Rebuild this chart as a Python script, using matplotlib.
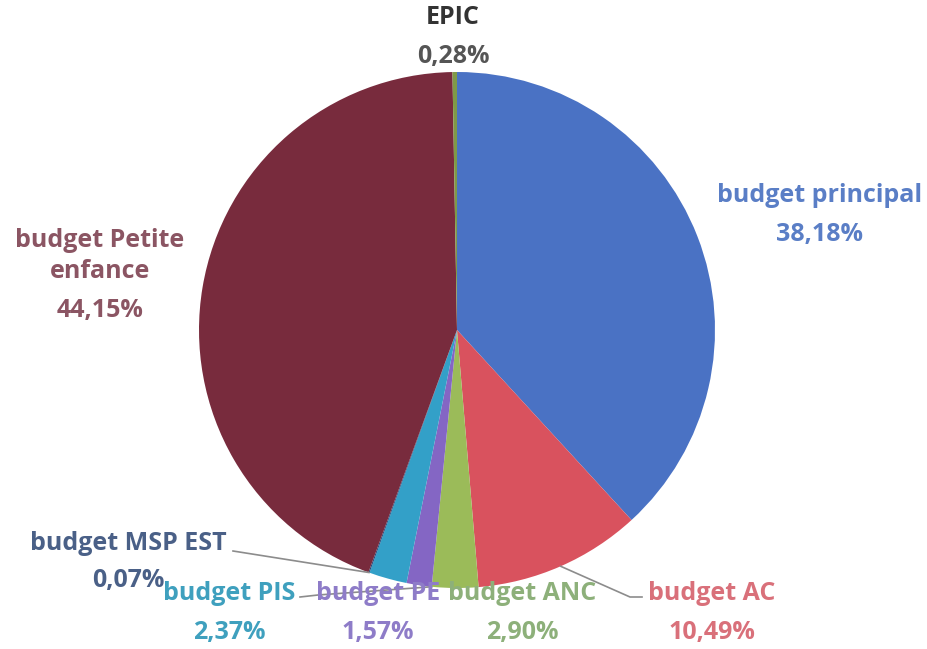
import numpy as np
import matplotlib.pyplot as plt

# Budget shares (%), clockwise from the top
categories = ['budget principal', 'budget AC', 'budget ANC', 'budget PE',
              'budget PIS', 'budget MSP EST', 'budget Petite\nenfance', 'EPIC']
shares = [38.18, 10.49, 2.90, 1.57, 2.37, 0.07, 44.15, 0.28]
pct_labels = ['38,18%', '10,49%', '2,90%', '1,57%', '2,37%', '0,07%', '44,15%', '0,28%']

wedge_colors = ['#4a72c4', '#d9525e', '#9bbb59', '#8466c4', '#33a0c8',
                '#1f497d', '#782b3d', '#7f9a48']
text_colors = ['#5a7ec6', '#d9707a', '#8db07a', '#8e7cc8', '#3fa0be',
               '#4a6087', '#8b5563', '#333333']

W, H = 928, 649
fig = plt.figure(figsize=(W / 100, H / 100), dpi=100)
ax = fig.add_axes([0, 0, 1, 1])

cx, cy, r = 457, H - 330, 258
wedges, _ = ax.pie(shares, colors=wedge_colors, startangle=90, counterclock=False,
                   center=(cx, cy), radius=r, frame=True,
                   wedgeprops=dict(linewidth=0))
ax.set_xlim(0, W)
ax.set_ylim(0, H)
ax.set_aspect('equal')
ax.axis('off')

font = dict(family='Open Sans', fontweight='bold', fontsize=18, ha='center', va='center')

# label positions (pixel coords, top-left origin): x, name y, pct y
label_pos = {
    0: (820, 195, 235),
    1: (712, 594, 632),
    2: (522, 594, 632),
    3: (378, 594, 632),
    4: (229, 594, 632),
    5: (128, 543, 580),
    6: (100, 256, 311),
    7: (453, 18, 57),
}

for i, name in enumerate(categories):
    x, yn, yp = label_pos[i]
    c = text_colors[i]
    ax.text(x, H - yn, name, color=c, linespacing=1.3, **font)
    pc = '#555555' if i == 7 else c
    ax.text(x, H - yp, pct_labels[i], color=pc, zorder=5, **font)


def edge_point(i, frac=0.5):
    w = wedges[i]
    a = np.deg2rad(w.theta1 + (w.theta2 - w.theta1) * frac)
    return cx + r * np.cos(a), cy + r * np.sin(a)


# leader lines: (slice, fraction along slice, label-side points in pixel coords)
leaders = [
    (1, 0.5, [(642, 597), (630, 597)]),
    (3, 1.0, [(300, 597), (318, 595)]),
    (5, 0.5, [(233, 551)]),
]
for i, frac, pts in leaders:
    ex, ey = edge_point(i, frac)
    path = [(px, H - py) for px, py in pts] + [(ex, ey)]
    ax.plot([p[0] for p in path], [p[1] for p in path], color='#8c8c8c', lw=1.2)

fig.savefig('out.png', dpi=100)
